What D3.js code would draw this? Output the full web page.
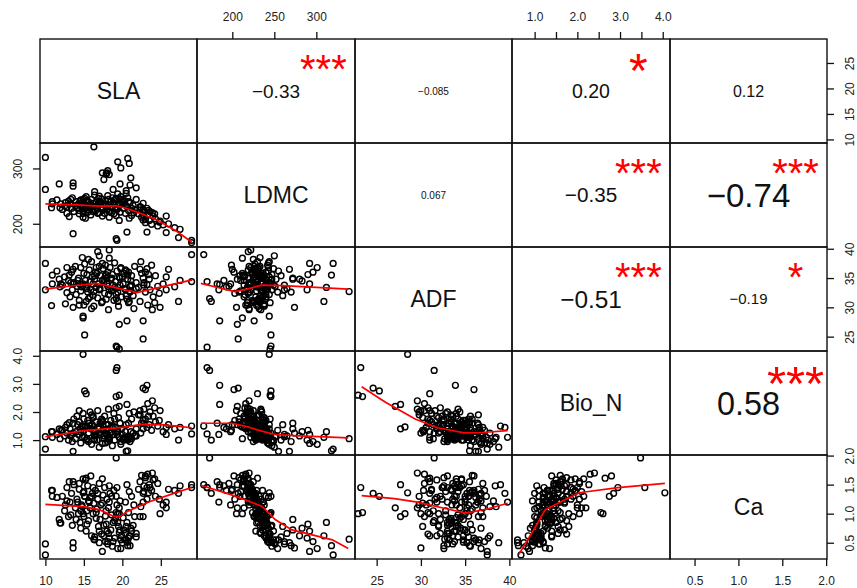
<!DOCTYPE html>
<html>
<head>
<meta charset="utf-8">
<script src="https://cdn.jsdelivr.net/npm/d3@7"></script>
<style>
  body { margin: 0; background: #fff; }
  text { font-family: "Liberation Sans", Arial, sans-serif; }
</style>
</head>
<body>
<svg id="chart" width="857" height="588"></svg>
<script>
// variable names (diagonal) and the axis range of each one
var variables = ["SLA", "LDMC", "ADF", "Bio_N", "Ca"];
var domains = [[9.3, 29.7], [158, 346], [22.55, 40.3], [0.47, 4.17], [0.22, 2.01]];

// one row per sample: SLA, LDMC, ADF, Bio_N, Ca
var observations = [
  [19.2,173,31.5,3.48,1.96], [19.3,170,23.2,3.58,1.45], [14.9,244,28.5,4.05,1.36],
  [10.0,320,37.5,0.68,0.29], [10.0,262,33.0,1.12,0.48], [16.3,339,32.7,1.05,0.56],
  [20.7,318,35.5,0.62,0.45], [20.9,309,31.0,1.10,0.62], [19.8,301,36.8,0.85,0.40],
  [18.0,292,34.0,1.20,0.70], [18.3,289,33.0,1.00,0.58], [17.9,290,35.6,1.35,0.82],
  [17.4,292,37.5,0.88,0.35], [21.1,283,34.5,1.30,0.75], [21.8,265,33.2,1.15,0.66],
  [20.5,260,32.0,1.55,0.78], [20.5,255,36.2,0.60,0.55], [11.8,272,34.8,1.40,0.90],
  [13.6,274,30.0,1.25,0.41], [13.6,268,36.5,0.60,0.50], [19.7,272,35.0,1.60,0.72],
  [29.0,166,39.0,1.50,1.50], [29.0,170,34.4,1.22,1.45], [27.3,175,31.0,1.00,1.35],
  [26.8,193,33.5,1.40,1.40], [25.7,214,35.2,1.45,1.10], [25.7,184,33.0,1.20,1.20],
  [24.9,205,30.0,2.05,1.00], [23.2,185,33.9,2.95,1.45], [23.0,202,36.0,2.80,1.65],
  [19.6,245,22.9,2.60,1.00], [19.2,246,23.4,2.55,1.02], [15.1,246,25.3,2.75,1.30],
  [22.7,207,24.6,2.85,1.35], [13.6,182,34.0,1.60,1.55], [20.6,185,27.7,2.27,1.50],
  [22.3,231,36.5,1.90,0.95], [22.7,237,35.0,1.70,1.20], [10.8,229,30.3,1.30,1.40],
  [11.5,243,36.2,1.20,1.28], [11.9,229,33.5,1.05,0.84], [12.0,236,34.0,1.35,0.84],
  [15.3,230,31.0,2.65,1.61], [18.3,222,39.8,1.10,1.20], [16.8,219,39.5,1.45,1.35],
  [14.9,212,28.2,1.47,1.00], [19.6,206,27.1,2.20,1.10], [22.7,226,27.7,1.40,0.95],
  [10.9,236,35.5,1.10,1.40], [10.9,240,34.0,1.30,1.30],
  // SLA 12-14
  [12.2,226,33.8,1.35,1.30], [12.5,232,35.2,1.15,1.05], [12.8,219,32.5,1.55,1.45],
  [13.0,241,34.6,1.00,0.95], [13.2,236,31.8,1.40,1.20], [13.4,228,36.0,1.20,1.35],
  [13.5,247,33.0,0.95,0.80], [13.7,222,34.2,1.75,1.50], [13.9,233,37.0,1.05,1.10],
  [14.0,240,32.2,1.30,0.90], [12.6,238,30.6,1.45,1.15], [13.1,213,35.5,1.62,1.55],
  [14.1,229,33.6,1.85,1.25], [12.8,230,36.8,1.25,1.22], [13.3,244,34.2,1.15,0.98],
  // SLA 14-17
  [14.3,236,35.0,1.20,1.00], [14.4,224,31.2,1.65,1.42], [14.6,243,36.8,0.90,0.75],
  [14.7,231,33.5,1.50,1.15], [14.9,219,34.0,1.95,1.60], [15.0,238,30.4,1.35,0.95],
  [15.1,227,37.4,1.10,1.30], [15.3,249,33.8,1.00,0.70], [15.4,233,35.6,1.45,1.05],
  [15.5,221,32.6,1.70,1.48], [15.6,240,31.5,1.25,0.88], [15.7,229,36.4,1.60,1.20],
  [15.8,235,34.4,2.00,1.10], [15.9,216,33.0,1.40,1.65], [16.0,244,37.8,0.85,0.62],
  [16.1,226,35.2,1.55,1.35], [16.2,237,32.0,1.80,1.00], [16.3,231,30.2,1.35,1.18],
  [16.4,252,34.8,1.15,0.55], [16.5,223,36.0,1.30,1.40], [16.6,239,33.4,1.65,0.92],
  [16.7,228,35.8,1.00,1.08], [16.8,234,31.6,2.05,1.25], [16.9,246,34.0,1.25,0.78],
  [17.0,220,37.0,1.45,1.52], [14.8,233,38.5,1.10,1.12], [15.2,210,34.6,1.50,1.58],
  [16.0,232,29.8,1.90,1.30], [14.5,241,33.9,1.40,0.85], [15.6,225,38.2,0.95,1.22],
  [14.2,228,34.6,1.55,1.20], [14.6,235,32.8,1.30,1.05], [15.0,224,35.8,1.75,1.38],
  [15.4,242,33.2,1.05,0.82], [15.8,228,31.8,1.50,1.28], [16.2,222,34.0,1.85,1.45],
  [16.6,232,36.8,1.20,1.02], [14.4,218,30.4,2.05,1.52], [16.4,258,35.4,1.00,0.60],
  // SLA 17-20
  [17.1,238,33.2,1.60,0.90], [17.2,230,35.4,1.20,1.15], [17.3,245,30.8,1.75,0.65],
  [17.5,227,36.6,1.35,1.32], [17.6,236,34.2,1.05,0.80], [17.7,219,32.4,1.85,1.45],
  [17.8,242,37.2,0.90,0.52], [17.9,232,31.4,1.55,1.05], [18.0,225,35.0,1.40,1.25],
  [18.1,251,33.6,1.10,0.48], [18.2,234,29.6,2.10,1.10], [18.4,222,36.8,1.25,1.35],
  [18.5,240,34.8,1.70,0.72], [18.6,229,32.8,1.30,0.98], [18.7,247,35.6,0.80,0.44],
  [18.8,236,33.0,1.50,0.85], [18.9,218,31.2,1.95,1.40], [19.0,243,37.6,1.00,0.58],
  [19.1,230,34.4,1.45,0.92], [19.3,226,36.2,1.20,1.15], [19.4,254,32.6,1.35,0.40],
  [19.5,238,30.2,1.80,0.78], [19.6,233,35.2,1.10,0.68], [19.7,221,33.8,1.60,1.22],
  [19.8,249,36.6,0.95,0.55], [19.9,240,31.8,1.40,0.62], [17.4,214,34.6,1.65,1.60],
  [18.3,212,38.4,1.05,1.48], [19.2,215,32.2,2.15,1.30], [17.0,250,38.8,0.75,0.50],
  [17.0,240,33.0,1.40,0.70], [17.4,226,31.0,1.70,1.18], [17.8,234,35.4,1.25,0.96],
  [18.2,244,32.2,1.55,0.66], [18.6,220,35.0,1.45,1.30], [19.0,236,33.4,1.75,0.88],
  [19.4,228,31.0,1.30,1.00], [18.8,262,33.8,1.20,0.52], [17.6,280,34.8,1.15,0.62],
  [19.4,312,33.4,1.30,0.85], [18.1,296,36.0,0.95,0.52],
  // SLA 20-22
  [20.1,228,34.0,1.05,0.93], [20.2,236,35.8,1.00,0.72], [20.3,242,33.2,1.10,0.55],
  [20.4,219,36.4,1.30,1.20], [20.6,231,31.4,1.05,0.85], [20.7,247,34.8,1.00,0.51],
  [20.8,224,30.8,1.60,1.02], [21.0,238,33.6,1.05,0.62], [21.2,215,35.4,1.75,1.30],
  [21.4,233,32.0,1.25,0.80], [21.6,226,37.0,1.15,0.95], [21.8,244,34.2,1.40,0.60],
  [20.9,210,32.8,1.95,1.38], [21.5,220,29.8,2.00,1.15], [20.0,244,35.2,1.20,0.50],
  [20.4,234,33.0,1.05,0.66], [20.8,240,36.0,1.15,0.58], [21.2,228,33.8,1.05,0.70],
  [21.0,270,32.6,0.95,0.45],
  // SLA 22-29
  [22.1,218,33.4,1.90,1.42], [22.3,225,31.0,2.05,1.55], [22.5,212,35.8,1.60,1.66],
  [22.8,221,34.2,2.10,1.38], [23.0,208,32.6,1.75,1.62], [23.2,228,36.6,1.45,1.25],
  [23.3,216,30.4,2.30,1.68], [23.5,206,34.8,1.55,1.50], [23.6,222,33.0,2.00,1.45],
  [23.8,199,37.2,1.35,1.40], [24.0,214,31.8,1.85,1.58], [24.3,209,35.4,1.65,1.30],
  [24.6,196,33.6,1.50,1.52], [22.4,230,37.8,1.25,1.12], [23.9,220,29.6,2.40,1.70],
  [24.8,203,32.4,1.70,1.25], [25.3,198,34.0,1.30,1.15], [22.8,214,33.8,1.60,1.48],
  [23.4,224,35.6,1.85,1.36], [24.2,218,30.8,2.15,1.60], [26.0,200,36.5,1.55,1.42],
  [27.5,190,34.6,1.45,1.48]
];

// red smoother lines (x var, y var)
var loLDMC_SLA = [[10,236],[14,234],[17,232],[19.2,232.5],[20.5,228],[22.3,219],[24.5,207],[27,187],[29,167]];
var loADF_SLA = [[10,33.1],[13,33.6],[16.6,34.1],[19,33.4],[21.9,32.5],[25.8,33.7],[29.1,34.7]];
var loBioN_SLA = [[10,1.12],[13,1.25],[15,1.34],[17,1.38],[20,1.45],[22.5,1.56],[25,1.55],[27,1.5],[29,1.44]];
var loCa_SLA = [[10,1.16],[15,1.12],[17,1.07],[18.8,0.96],[19.7,0.95],[20.5,1.03],[23.6,1.21],[26.5,1.34],[29,1.45]];
var loADF_LDMC = [[162.6,34.1],[185,33.3],[203,32.7],[220,33.2],[235,33.8],[260,33.7],[300,33.4],[338,33.1]];
var loBioN_LDMC = [[162.6,1.6],[199,1.6],[215,1.5],[235,1.32],[251,1.2],[280,1.15],[338,1.08]];
var loCa_LDMC = [[162.6,1.49],[200,1.32],[222,1.2],[235,1.13],[251,0.9],[271,0.72],[319,0.55],[338,0.4]];
var loBioN_ADF = [[23.3,2.9],[26,2.35],[29.4,1.74],[31.9,1.44],[34.9,1.26],[37,1.27],[39.8,1.34]];
var loCa_ADF = [[23.3,1.31],[27,1.26],[29.6,1.2],[33,1.08],[35.1,1.01],[37.5,1.08],[39.8,1.18]];
var loCa_BioN = [[0.63,0.30],[1.0,0.75],[1.25,1.07],[2.04,1.36],[2.95,1.45],[4.05,1.52]];

// correlation texts for the upper panels [row, col]
var corCells = [[0,1],[0,2],[0,3],[0,4],[1,2],[1,3],[1,4],[2,3],[2,4],[3,4]];
var corLabels = ["\u22120.33", "\u22120.085", "0.20", "0.12", "0.067", "\u22120.35", "\u22120.74", "\u22120.51", "\u22120.19", "0.58"];
var corStars = ["***", "", "*", "", "", "***", "***", "***", "*", "***"];

// tick values and labels
var ticksSLA = [10, 15, 20, 25], labelsSLA = ["10", "15", "20", "25"];
var ticksLDMCTop = [200, 250, 300], labelsLDMCTop = ["200", "250", "300"];
var ticksLDMCLeft = [200, 300], labelsLDMCLeft = ["200", "300"];
var ticksADF = [25, 30, 35, 40], labelsADF = ["25", "30", "35", "40"];
var ticksBioNTop = [1, 1.5, 2, 2.5, 3, 3.5, 4], labelsBioNTop = ["1.0", "", "2.0", "", "3.0", "", "4.0"];
var ticksBioNLeft = [1, 2, 3, 4], labelsBioNLeft = ["1.0", "2.0", "3.0", "4.0"];
var ticksCa = [0.5, 1, 1.5, 2], labelsCa = ["0.5", "1.0", "1.5", "2.0"];

// ---- layout ----
var svg = d3.select("#chart");
var marginLeft = 40, marginTop = 39, cw = 157.4, ch = 104, n = variables.length;
var colEdge = d3.range(n + 1).map(function(j) { return Math.round(marginLeft + j * cw); });
var rowEdge = d3.range(n + 1).map(function(i) { return Math.round(marginTop + i * ch); });

var xScales = variables.map(function(v, j) {
    return d3.scaleLinear().domain(domains[j]).range([colEdge[j], colEdge[j + 1]]);
});
var yScales = variables.map(function(v, i) {
    return d3.scaleLinear().domain(domains[i]).range([rowEdge[i + 1], rowEdge[i]]);
});

var corFont = [19, 10, 19.5, 16, 10, 20.7, 33, 24.4, 15, 32.4];
var starFont = [40, 40, 48, 40, 40, 40, 40, 40, 40, 49];

// scatter points in the lower panels
for (var i = 0; i < n; i++) {
    for (var j = 0; j < i; j++) {
        (function(i, j) {
            svg.append("g").selectAll("circle")
                .data(observations)
                .enter().append("circle")
                .attr("cx", function(d) { return xScales[j](d[j]); })
                .attr("cy", function(d) { return yScales[i](d[i]); })
                .attr("r", 2.9)
                .attr("fill", "none")
                .attr("stroke", "#000")
                .attr("stroke-width", 1.45);
        })(i, j);
    }
}

// smoother lines
var smoothTable = [
    {row: 1, col: 0, pts: loLDMC_SLA}, {row: 2, col: 0, pts: loADF_SLA},
    {row: 3, col: 0, pts: loBioN_SLA}, {row: 4, col: 0, pts: loCa_SLA},
    {row: 2, col: 1, pts: loADF_LDMC}, {row: 3, col: 1, pts: loBioN_LDMC},
    {row: 4, col: 1, pts: loCa_LDMC}, {row: 3, col: 2, pts: loBioN_ADF},
    {row: 4, col: 2, pts: loCa_ADF}, {row: 4, col: 3, pts: loCa_BioN}
];
smoothTable.forEach(function(s) {
    var line = d3.line()
        .x(function(d) { return xScales[s.col](d[0]); })
        .y(function(d) { return yScales[s.row](d[1]); });
    svg.append("path")
        .attr("d", line(s.pts))
        .attr("fill", "none")
        .attr("stroke", "#ff0000")
        .attr("stroke-width", 1.7);
});

// diagonal names
variables.forEach(function(v, k) {
    svg.append("text")
        .attr("x", (colEdge[k] + colEdge[k + 1]) / 2)
        .attr("y", (rowEdge[k] + rowEdge[k + 1]) / 2 + 0.358 * 23)
        .attr("text-anchor", "middle")
        .attr("font-size", 23)
        .attr("fill", "#111")
        .text(v);
});

// correlation numbers and stars
corCells.forEach(function(c, k) {
    var x0 = colEdge[c[1]], x1 = colEdge[c[1] + 1];
    var y0 = rowEdge[c[0]], y1 = rowEdge[c[0] + 1];
    svg.append("text")
        .attr("x", (x0 + x1) / 2)
        .attr("y", (y0 + y1) / 2 + 0.358 * corFont[k])
        .attr("text-anchor", "middle")
        .attr("font-size", corFont[k])
        .attr("fill", "#111")
        .text(corLabels[k]);
    if (corStars[k]) {
        svg.append("text")
            .attr("x", x0 + 0.8 * (x1 - x0))
            .attr("y", y1 - 0.8 * (y1 - y0) + 0.57 * starFont[k])
            .attr("text-anchor", "middle")
            .attr("font-size", starFont[k])
            .attr("fill", "#ff0000")
            .text(corStars[k]);
    }
});

// panel boxes
for (var r = 0; r < n; r++) {
    for (var c = 0; c < n; c++) {
        svg.append("rect")
            .attr("x", colEdge[c]).attr("y", rowEdge[r])
            .attr("width", colEdge[c + 1] - colEdge[c])
            .attr("height", rowEdge[r + 1] - rowEdge[r])
            .attr("fill", "none")
            .attr("stroke", "#111")
            .attr("stroke-width", 1.4);
    }
}

// axes round the outside
var axisSpecs = [
    {side: "top", v: 1, ticks: ticksLDMCTop, labels: labelsLDMCTop},
    {side: "top", v: 3, ticks: ticksBioNTop, labels: labelsBioNTop},
    {side: "bottom", v: 0, ticks: ticksSLA, labels: labelsSLA},
    {side: "bottom", v: 2, ticks: ticksADF, labels: labelsADF},
    {side: "bottom", v: 4, ticks: ticksCa, labels: labelsCa},
    {side: "right", v: 0, ticks: ticksSLA, labels: labelsSLA},
    {side: "left", v: 1, ticks: ticksLDMCLeft, labels: labelsLDMCLeft},
    {side: "right", v: 2, ticks: ticksADF, labels: labelsADF},
    {side: "left", v: 3, ticks: ticksBioNLeft, labels: labelsBioNLeft},
    {side: "right", v: 4, ticks: ticksCa, labels: labelsCa}
];
var bottomY = rowEdge[n], rightX = colEdge[n];

axisSpecs.forEach(function(s) {
    var g = svg.append("g");
    var ax;
    if (s.side == "top") {
        ax = d3.axisTop(xScales[s.v]);
        g.attr("transform", "translate(0," + marginTop + ")");
    } else if (s.side == "bottom") {
        ax = d3.axisBottom(xScales[s.v]);
        g.attr("transform", "translate(0," + bottomY + ")");
    } else if (s.side == "left") {
        ax = d3.axisLeft(yScales[s.v]);
        g.attr("transform", "translate(" + marginLeft + ",0)");
    } else {
        ax = d3.axisRight(yScales[s.v]);
        g.attr("transform", "translate(" + rightX + ",0)");
    }
    ax.tickValues(s.ticks).tickSize(7).tickSizeOuter(0)
      .tickFormat(function(d, i) { return s.labels[i]; });
    g.call(ax);
    g.select(".domain").remove();
    g.attr("font-size", 12).attr("font-family", "Liberation Sans, Arial, sans-serif");
    g.selectAll(".tick line").attr("stroke", "#111").attr("stroke-width", 1.3);
    var t = g.selectAll(".tick text").attr("fill", "#222");
    if (s.side == "top") {
        t.attr("y", -18).attr("dy", 0);
    } else if (s.side == "bottom") {
        t.attr("y", 26).attr("dy", 0);
    } else {
        var off = s.side == "left" ? -22 : 23;
        t.attr("x", 0).attr("dy", 0)
         .attr("text-anchor", "middle")
         .attr("dominant-baseline", "central")
         .attr("transform", "translate(" + off + ",0) rotate(-90)");
    }
});
</script>
</body>
</html>
